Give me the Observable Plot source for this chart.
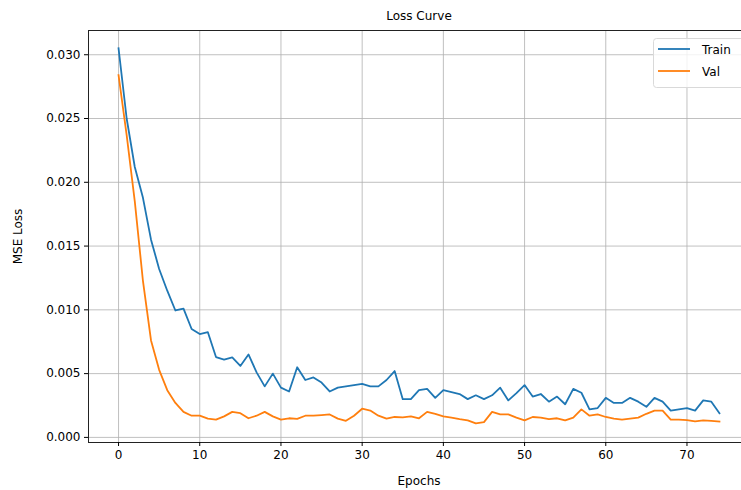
<!DOCTYPE html>
<html>
<head>
<meta charset="utf-8">
<script src="https://cdn.jsdelivr.net/npm/d3@7"></script>
<script src="https://cdn.jsdelivr.net/npm/@observablehq/plot@0.6"></script>
<style>
  html, body { margin: 0; padding: 0; background: #fff; overflow: hidden; }
  #wrap { position: relative; width: 741px; height: 490px; overflow: hidden; }
  #wrap > svg.plot { max-width: none !important; width: 770px; height: 490px; display: block; }
  #legend { position: absolute; left: 0; top: 0; }
</style>
</head>
<body>
<div id="wrap"></div>
<script>
const trainLoss = [0.0305,0.0250,0.0212,0.0188,0.0155,0.0132,0.0115,0.00995,0.0101,0.0085,
  0.0081,0.00825,0.0063,0.0061,0.00627,0.0056,0.0065,0.0051,0.0040,0.0050,
  0.0039,0.0036,0.0055,0.0045,0.0047,0.0043,0.0036,0.0039,0.0040,0.0041,
  0.0042,0.0040,0.0040,0.0045,0.0052,0.0030,0.0030,0.0037,0.0038,0.0031,
  0.0037,0.00355,0.0034,0.0030,0.0033,0.0030,0.0033,0.0039,0.0029,0.00347,
  0.0041,0.0032,0.0034,0.0028,0.0032,0.0026,0.0038,0.0035,0.0022,0.0023,
  0.0031,0.0027,0.0027,0.0031,0.0028,0.0024,0.0031,0.0028,0.0021,0.0022,
  0.0023,0.0021,0.0029,0.0028,0.0019];
const valLoss = [0.0284,0.0237,0.0185,0.0123,0.0076,0.0053,0.0037,0.0027,0.0020,0.0017,
  0.0017,0.00147,0.0014,0.00165,0.0020,0.0019,0.0015,0.0017,0.0020,0.00165,
  0.0014,0.0015,0.00145,0.0017,0.0017,0.00175,0.0018,0.00147,0.0013,0.0017,
  0.00225,0.0021,0.0017,0.00147,0.0016,0.00157,0.00165,0.0015,0.0020,0.00185,
  0.00165,0.00155,0.00143,0.00133,0.0011,0.0012,0.0020,0.0018,0.0018,0.00155,
  0.00133,0.0016,0.00155,0.00143,0.0015,0.00133,0.00155,0.0022,0.0017,0.0018,
  0.0016,0.00147,0.0014,0.00147,0.00155,0.00185,0.0021,0.0021,0.0014,0.0014,
  0.00136,0.00125,0.00133,0.0013,0.00125];
const seriesNames = ["Train", "Val"];
const seriesColors = ["#1f77b4", "#ff7f0e"];
const xTicks = [0, 10, 20, 30, 40, 50, 60, 70];
const yTicks = [0.000, 0.005, 0.010, 0.015, 0.020, 0.025, 0.030];
const titleText = "Loss Curve";
const xLabel = "Epochs";
const yLabel = "MSE Loss";

const epochs = trainLoss.map((_, i) => i);
const rows = [];
epochs.forEach(i => {
  rows.push({epoch: i, loss: trainLoss[i], series: seriesNames[0]});
  rows.push({epoch: i, loss: valLoss[i], series: seriesNames[1]});
});

const xDom = [-3.7, 77.7];
const yDom = [-0.0004, 0.0319];
const font = "DejaVu Sans, sans-serif";

// The plot extends past the 741px window (the right edge is cropped, as in the reference).
const chart = Plot.plot({
  width: 770,
  height: 490,
  marginLeft: 88,
  marginRight: 0,
  marginTop: 30,
  marginBottom: 48,
  style: {fontFamily: font, fontSize: "12px", color: "#000", background: "#fff", maxWidth: "none"},
  x: {domain: xDom, range: [88, 749], label: null},
  y: {domain: yDom, label: null},
  color: {domain: seriesNames, range: seriesColors},
  marks: [
    Plot.ruleX(xTicks, {x: d => d, y1: yDom[0], y2: yDom[1], stroke: "#b0b0b0", strokeWidth: 0.8}),
    Plot.ruleY(yTicks, {y: d => d, x1: xDom[0], x2: xDom[1], stroke: "#b0b0b0", strokeWidth: 0.8}),
    Plot.line(rows, {x: "epoch", y: "loss", z: "series", stroke: "series", strokeWidth: 1.8, strokeLinejoin: "round", strokeLinecap: "square"}),
    Plot.ruleX([xDom[0]], {x: d => d, y1: yDom[0], y2: yDom[1], stroke: "#222", strokeWidth: 1}),
    Plot.ruleY([yDom[0]], {y: d => d, x1: xDom[0], x2: xDom[1], stroke: "#222", strokeWidth: 1}),
    Plot.ruleY([yDom[1]], {y: d => d, x1: xDom[0], x2: xDom[1], stroke: "#222", strokeWidth: 1}),
    Plot.axisX({ticks: xTicks, tickSize: 4, tickPadding: 4, fontSize: 12, label: null, tickFormat: d => String(d)}),
    Plot.axisY({ticks: yTicks, tickSize: 4, tickPadding: 4, fontSize: 12, label: null, tickFormat: d3.format(".3f")}),
    Plot.text([titleText], {x: () => 37, y: () => yDom[1], text: d => d, dy: -14, fontSize: 12, fill: "#000"}),
    Plot.text([xLabel], {x: () => 37, y: () => yDom[0], text: d => d, dy: 39, fontSize: 12, fill: "#000"}),
    Plot.text([yLabel], {x: () => xDom[0], y: () => (yDom[0] + yDom[1]) / 2, text: d => d, dx: -70, rotate: -90, fontSize: 12, fill: "#000"})
  ]
});
document.getElementById("wrap").appendChild(chart);

// Legend overlay (matplotlib-style box, cropped at the right edge like the reference)
const ns = "http://www.w3.org/2000/svg";
const lg = document.createElementNS(ns, "svg");
lg.setAttribute("id", "legend");
lg.setAttribute("width", 741);
lg.setAttribute("height", 490);
const box = document.createElementNS(ns, "rect");
box.setAttribute("x", 653.5); box.setAttribute("y", 38.5);
box.setAttribute("width", 100); box.setAttribute("height", 49);
box.setAttribute("rx", 3);
box.setAttribute("fill", "rgba(255,255,255,0.8)");
box.setAttribute("stroke", "#d9d9d9");
lg.appendChild(box);
seriesNames.forEach((name, i) => {
  const yy = 49 + i * 22;
  const ln = document.createElementNS(ns, "line");
  ln.setAttribute("x1", 658); ln.setAttribute("x2", 690);
  ln.setAttribute("y1", yy); ln.setAttribute("y2", yy);
  ln.setAttribute("stroke", seriesColors[i]); ln.setAttribute("stroke-width", 1.8);
  lg.appendChild(ln);
  const t = document.createElementNS(ns, "text");
  t.setAttribute("x", 702); t.setAttribute("y", yy + 4.5);
  t.setAttribute("font-family", font); t.setAttribute("font-size", 12);
  t.setAttribute("fill", "#000");
  t.textContent = name;
  lg.appendChild(t);
});
document.getElementById("wrap").appendChild(lg);
</script>
</body>
</html>
